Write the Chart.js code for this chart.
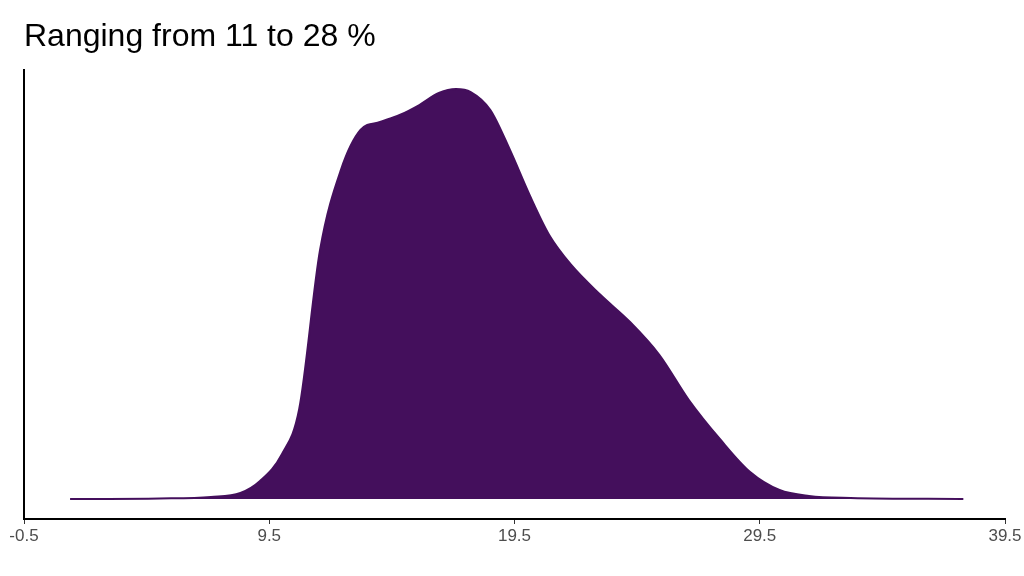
<!DOCTYPE html><html><head><script src="https://cdn.jsdelivr.net/npm/chart.js@4/dist/chart.umd.min.js"></script>
<style>html,body{margin:0;background:#fff}#w{width:1024px;height:576px}</style></head><body><div id="w"><canvas id="c"></canvas></div>
<script>
const xs=[1.35,5,7.1,8.3,9.1,10,10.7,11.55,12.4,13.2,14,14.8,15.6,16.4,17.1,17.7,18.5,19.3,20.1,20.9,21.8,23,24.2,25.4,26.6,27.9,29.1,30.3,31.5,33.2,37.8];
const dens=[0,0.5,2,6,18,45,90,249,329,369,377,384,394,406,410,407,389,349,304,264,234,204,177,144,99,59,27,9,3,1,0];
const titleText="Ranging from 11 to 28 %";
const pts=xs.map((x,i)=>({x:x,y:dens[i]}));
const titlePlugin={id:'t',afterDraw(ch){const c=ch.ctx;c.save();c.font='32px "Liberation Sans", Arial';c.fillStyle='#000';c.textBaseline='alphabetic';c.fillText(titleText,24,46);c.restore();}};
new Chart(document.getElementById('c'),{type:'line',data:{datasets:[{data:pts,fill:'origin',backgroundColor:'#440f5c',borderColor:'#440f5c',borderWidth:2,pointRadius:0,tension:0.4,cubicInterpolationMode:'monotone'}]},
options:{responsive:true,maintainAspectRatio:false,animation:false,layout:{padding:{top:70,right:19,left:0,bottom:0}},
plugins:{legend:{display:false},tooltip:{enabled:false}},
scales:{x:{type:'linear',min:-0.53,max:39.5,afterFit(s){s.height=57},ticks:{stepSize:10,includeBounds:false,color:'#4d4d4d',font:{size:17,family:'Liberation Sans'},padding:2},grid:{drawOnChartArea:false,drawTicks:true,tickLength:5,color:'#333'},border:{color:'#000',width:2}},
y:{min:-20,max:429,afterFit(s){s.width=24},ticks:{display:false},grid:{display:false,drawTicks:false},border:{color:'#000',width:2}}}},plugins:[titlePlugin]});
</script></body></html>
